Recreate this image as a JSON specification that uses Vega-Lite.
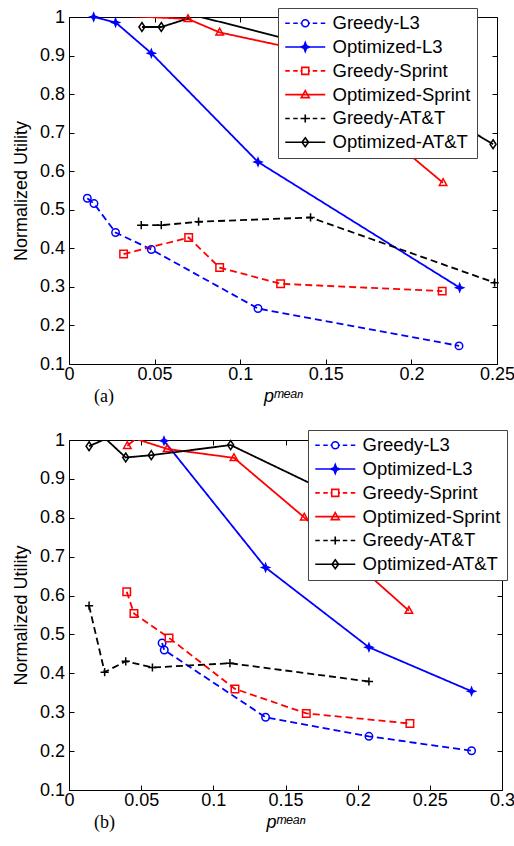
{
  "$schema": "https://vega.github.io/schema/vega-lite/v6.json",
  "padding": {"left": 12, "top": 7, "right": 0, "bottom": 0},
  "background": "white",
  "config": {
    "view": {"stroke": null},
    "font": "Liberation Sans",
    "axis": {"domainColor": "#000", "domainWidth": 1, "tickColor": "#000", "tickSize": -5, "labelColor": "#000", "labelFont": "Liberation Sans", "labelFontSize": 18, "titleFont": "Liberation Sans", "titleFontSize": 18, "titleFontWeight": "normal", "titleColor": "#000", "grid": false, "labelFlush": false, "labelOverlap": false},
    "axisX": {"labelPadding": 6},
    "axisY": {"labelPadding": 9.5},
    "legend": {"labelFont": "Liberation Sans", "labelFontSize": 18.5, "labelColor": "#000", "strokeColor": "#444", "fillColor": "white", "padding": 6, "symbolSize": 100, "symbolStrokeWidth": 1.6, "symbolOffset": 12, "labelOffset": 18, "rowPadding": 4.8, "title": null}
  },
  "datasets": {
    "a": [
      {"series": "Greedy-L3", "x": 0.0107, "y": 0.530},
      {"series": "Greedy-L3", "x": 0.0146, "y": 0.516},
      {"series": "Greedy-L3", "x": 0.0272, "y": 0.441},
      {"series": "Greedy-L3", "x": 0.0481, "y": 0.397},
      {"series": "Greedy-L3", "x": 0.1104, "y": 0.244},
      {"series": "Greedy-L3", "x": 0.2278, "y": 0.147},
      {"series": "Optimized-L3", "x": 0.0144, "y": 1.0},
      {"series": "Optimized-L3", "x": 0.0272, "y": 0.986},
      {"series": "Optimized-L3", "x": 0.0481, "y": 0.906},
      {"series": "Optimized-L3", "x": 0.1104, "y": 0.624},
      {"series": "Optimized-L3", "x": 0.2282, "y": 0.298},
      {"series": "Greedy-Sprint", "x": 0.0319, "y": 0.385},
      {"series": "Greedy-Sprint", "x": 0.0699, "y": 0.428},
      {"series": "Greedy-Sprint", "x": 0.088, "y": 0.350},
      {"series": "Greedy-Sprint", "x": 0.1236, "y": 0.308},
      {"series": "Greedy-Sprint", "x": 0.218, "y": 0.289},
      {"series": "Optimized-Sprint", "x": 0.0315, "y": 1.003},
      {"series": "Optimized-Sprint", "x": 0.0695, "y": 0.995},
      {"series": "Optimized-Sprint", "x": 0.088, "y": 0.96},
      {"series": "Optimized-Sprint", "x": 0.13, "y": 0.92},
      {"series": "Optimized-Sprint", "x": 0.17, "y": 0.75},
      {"series": "Optimized-Sprint", "x": 0.2185, "y": 0.57},
      {"series": "Greedy-AT&T", "x": 0.0422, "y": 0.460},
      {"series": "Greedy-AT&T", "x": 0.0539, "y": 0.460},
      {"series": "Greedy-AT&T", "x": 0.0757, "y": 0.469},
      {"series": "Greedy-AT&T", "x": 0.1411, "y": 0.480},
      {"series": "Greedy-AT&T", "x": 0.2486, "y": 0.311},
      {"series": "Optimized-AT&T", "x": 0.0426, "y": 0.974},
      {"series": "Optimized-AT&T", "x": 0.0539, "y": 0.974},
      {"series": "Optimized-AT&T", "x": 0.0744, "y": 1.003},
      {"series": "Optimized-AT&T", "x": 0.158, "y": 0.908},
      {"series": "Optimized-AT&T", "x": 0.2477, "y": 0.670}
    ],
    "b": [
      {"series": "Greedy-L3", "x": 0.0645, "y": 0.478},
      {"series": "Greedy-L3", "x": 0.0660, "y": 0.460},
      {"series": "Greedy-L3", "x": 0.1362, "y": 0.287},
      {"series": "Greedy-L3", "x": 0.2078, "y": 0.238},
      {"series": "Greedy-L3", "x": 0.2789, "y": 0.201},
      {"series": "Optimized-L3", "x": 0.0658, "y": 0.998},
      {"series": "Optimized-L3", "x": 0.1362, "y": 0.672},
      {"series": "Optimized-L3", "x": 0.2078, "y": 0.467},
      {"series": "Optimized-L3", "x": 0.2789, "y": 0.354},
      {"series": "Greedy-Sprint", "x": 0.040, "y": 0.610},
      {"series": "Greedy-Sprint", "x": 0.045, "y": 0.554},
      {"series": "Greedy-Sprint", "x": 0.0693, "y": 0.491},
      {"series": "Greedy-Sprint", "x": 0.115, "y": 0.360},
      {"series": "Greedy-Sprint", "x": 0.1644, "y": 0.297},
      {"series": "Greedy-Sprint", "x": 0.2362, "y": 0.271},
      {"series": "Optimized-Sprint", "x": 0.0404, "y": 0.985},
      {"series": "Optimized-Sprint", "x": 0.0462, "y": 1.003},
      {"series": "Optimized-Sprint", "x": 0.068, "y": 0.977},
      {"series": "Optimized-Sprint", "x": 0.1143, "y": 0.954},
      {"series": "Optimized-Sprint", "x": 0.163, "y": 0.801},
      {"series": "Optimized-Sprint", "x": 0.2355, "y": 0.561},
      {"series": "Greedy-AT&T", "x": 0.0139, "y": 0.574},
      {"series": "Greedy-AT&T", "x": 0.0247, "y": 0.403},
      {"series": "Greedy-AT&T", "x": 0.0393, "y": 0.431},
      {"series": "Greedy-AT&T", "x": 0.0578, "y": 0.415},
      {"series": "Greedy-AT&T", "x": 0.1115, "y": 0.426},
      {"series": "Greedy-AT&T", "x": 0.2078, "y": 0.379},
      {"series": "Optimized-AT&T", "x": 0.0139, "y": 0.984},
      {"series": "Optimized-AT&T", "x": 0.0254, "y": 1.003},
      {"series": "Optimized-AT&T", "x": 0.0393, "y": 0.955},
      {"series": "Optimized-AT&T", "x": 0.057, "y": 0.961},
      {"series": "Optimized-AT&T", "x": 0.112, "y": 0.987},
      {"series": "Optimized-AT&T", "x": 0.2, "y": 0.83}
    ]
  },
  "resolve": {"scale": {"x": "independent", "y": "independent", "stroke": "independent", "strokeDash": "independent", "shape": "independent", "fill": "independent"}, "legend": {"stroke": "independent"}},
  "spacing": 23,
  "vconcat": [
    {
      "width": 428, "height": 347,
      "data": {"name": "a"},
      "title": {"text": "(a)", "orient": "bottom", "anchor": "start", "frame": "group", "dx": 25, "offset": -17, "font": "Liberation Serif", "fontSize": 18, "fontWeight": "normal", "color": "#000"},
      "resolve": {"axis": {"x": "independent", "y": "independent"}},
      "layer": [
        {
          "mark": {"type": "line", "strokeWidth": 1.8, "clip": true},
          "encoding": {
            "x": {"field": "x", "type": "quantitative", "scale": {"domain": [0, 0.25], "nice": false, "zero": false}, "axis": {"values": [0, 0.05, 0.1, 0.15, 0.2, 0.25], "format": "~g", "title": "pᵐᵉᵃⁿ", "titleFontStyle": "italic", "titlePadding": 4}},
            "y": {"field": "y", "type": "quantitative", "scale": {"domain": [0.1, 1], "nice": false, "zero": false}, "axis": {"values": [0.1, 0.2, 0.3, 0.4, 0.5, 0.6, 0.7, 0.8, 0.9, 1], "format": "~g", "title": "Normalized Utility", "titlePadding": 9}},
            "stroke": {"field": "series", "type": "nominal", "sort": null,
              "scale": {"domain": ["Greedy-L3", "Optimized-L3", "Greedy-Sprint", "Optimized-Sprint", "Greedy-AT&T", "Optimized-AT&T"], "range": ["#0000ff", "#0000ff", "#ff0000", "#ff0000", "#000000", "#000000"]},
              "legend": {"orient": "none", "legendX": 209, "legendY": -9,
                "symbolType": {"expr": "datum.value==='Greedy-L3' ? 'M-4,0H-3.1M-2.4,0H-1.5M-0.95,0H-0.7M0.7,0H0.95M1.5,0H2.4M3.1,0H4M0.7,0A0.7,0.7 0 1,1 -0.7,0A0.7,0.7 0 1,1 0.7,0' : datum.value==='Optimized-L3' ? 'M-4,0H4M0,-0.9L0.25,-0.25L0.9,0L0.25,0.25L0,0.9L-0.25,0.25L-0.9,0L-0.25,-0.25Z' : datum.value==='Greedy-Sprint' ? 'M-4,0H-3.1M-2.4,0H-1.5M-0.95,0H-0.7M0.7,0H0.95M1.5,0H2.4M3.1,0H4M-0.7,-0.7H0.7V0.7H-0.7Z' : datum.value==='Optimized-Sprint' ? 'M-4,0H4M0,-0.8L0.8,0.6H-0.8Z' : datum.value==='Greedy-AT&T' ? 'M-4,0H-3.1M-2.4,0H-1.5M-0.95,0H0.95M1.5,0H2.4M3.1,0H4M0,-0.8V0.8' : 'M-4,0H4M0,-0.9L0.65,0L0,0.9L-0.65,0Z'"},
                "symbolFillColor": {"expr": "datum.value==='Optimized-L3' ? '#0000ff' : 'transparent'"}
              }},
            "strokeDash": {"field": "series", "type": "nominal", "sort": null,
              "scale": {"range": [[7, 4], [1, 0], [7, 4], [1, 0], [7, 4], [1, 0]]}, "legend": null}
          }
        },
        {
          "transform": [{"filter": "datum.y <= 1"}],
          "mark": {"type": "point", "size": 56, "strokeWidth": 1.5, "opacity": 1},
          "encoding": {
            "x": {"field": "x", "type": "quantitative", "axis": {"orient": "top", "values": [0, 0.05, 0.1, 0.15, 0.2, 0.25], "labels": false, "title": null}},
            "y": {"field": "y", "type": "quantitative", "axis": {"orient": "right", "values": [0.1, 0.2, 0.3, 0.4, 0.5, 0.6, 0.7, 0.8, 0.9, 1], "labels": false, "title": null}},
            "stroke": {"field": "series", "type": "nominal", "sort": null, "legend": null},
            "fill": {"field": "series", "type": "nominal", "sort": null, "legend": null,
              "scale": {"range": ["transparent", "#0000ff", "transparent", "transparent", "transparent", "transparent"]}},
            "shape": {"field": "series", "type": "nominal", "sort": null, "legend": null,
              "scale": {"range": ["M1,0A1,1 0 1,1 -1,0A1,1 0 1,1 1,0Z", "M0,-1L0.28,-0.28L1,0L0.28,0.28L0,1L-0.28,0.28L-1,0L-0.28,-0.28Z", "M-1,-1H1V1H-1Z", "M0,-1.1L1,0.7H-1Z", "M-1.1,0H1.1M0,-1.1V1.1", "M0,-1.2L0.8,0L0,1.2L-0.8,0Z"]}}
          }
        }
      ]
    },
    {
      "width": 433, "height": 350,
      "data": {"name": "b"},
      "title": {"text": "(b)", "orient": "bottom", "anchor": "start", "frame": "group", "dx": 25, "offset": -17, "font": "Liberation Serif", "fontSize": 18, "fontWeight": "normal", "color": "#000"},
      "resolve": {"axis": {"x": "independent", "y": "independent"}},
      "layer": [
        {
          "mark": {"type": "line", "strokeWidth": 1.8, "clip": true},
          "encoding": {
            "x": {"field": "x", "type": "quantitative", "scale": {"domain": [0, 0.3], "nice": false, "zero": false}, "axis": {"values": [0, 0.05, 0.1, 0.15, 0.2, 0.25, 0.3], "format": "~g", "title": "pᵐᵉᵃⁿ", "titleFontStyle": "italic", "titlePadding": 4}},
            "y": {"field": "y", "type": "quantitative", "scale": {"domain": [0.1, 1], "nice": false, "zero": false}, "axis": {"values": [0.1, 0.2, 0.3, 0.4, 0.5, 0.6, 0.7, 0.8, 0.9, 1], "format": "~g", "title": "Normalized Utility", "titlePadding": 9}},
            "stroke": {"field": "series", "type": "nominal", "sort": null,
              "scale": {"domain": ["Greedy-L3", "Optimized-L3", "Greedy-Sprint", "Optimized-Sprint", "Greedy-AT&T", "Optimized-AT&T"], "range": ["#0000ff", "#0000ff", "#ff0000", "#ff0000", "#000000", "#000000"]},
              "legend": {"orient": "none", "legendX": 239, "legendY": -10,
                "symbolType": {"expr": "datum.value==='Greedy-L3' ? 'M-4,0H-3.1M-2.4,0H-1.5M-0.95,0H-0.7M0.7,0H0.95M1.5,0H2.4M3.1,0H4M0.7,0A0.7,0.7 0 1,1 -0.7,0A0.7,0.7 0 1,1 0.7,0' : datum.value==='Optimized-L3' ? 'M-4,0H4M0,-0.9L0.25,-0.25L0.9,0L0.25,0.25L0,0.9L-0.25,0.25L-0.9,0L-0.25,-0.25Z' : datum.value==='Greedy-Sprint' ? 'M-4,0H-3.1M-2.4,0H-1.5M-0.95,0H-0.7M0.7,0H0.95M1.5,0H2.4M3.1,0H4M-0.7,-0.7H0.7V0.7H-0.7Z' : datum.value==='Optimized-Sprint' ? 'M-4,0H4M0,-0.8L0.8,0.6H-0.8Z' : datum.value==='Greedy-AT&T' ? 'M-4,0H-3.1M-2.4,0H-1.5M-0.95,0H0.95M1.5,0H2.4M3.1,0H4M0,-0.8V0.8' : 'M-4,0H4M0,-0.9L0.65,0L0,0.9L-0.65,0Z'"},
                "symbolFillColor": {"expr": "datum.value==='Optimized-L3' ? '#0000ff' : 'transparent'"}
              }},
            "strokeDash": {"field": "series", "type": "nominal", "sort": null,
              "scale": {"range": [[7, 4], [1, 0], [7, 4], [1, 0], [7, 4], [1, 0]]}, "legend": null}
          }
        },
        {
          "transform": [{"filter": "datum.y <= 1"}],
          "mark": {"type": "point", "size": 56, "strokeWidth": 1.5, "opacity": 1},
          "encoding": {
            "x": {"field": "x", "type": "quantitative", "axis": {"orient": "top", "values": [0, 0.05, 0.1, 0.15, 0.2, 0.25, 0.3], "labels": false, "title": null}},
            "y": {"field": "y", "type": "quantitative", "axis": {"orient": "right", "values": [0.1, 0.2, 0.3, 0.4, 0.5, 0.6, 0.7, 0.8, 0.9, 1], "labels": false, "title": null}},
            "stroke": {"field": "series", "type": "nominal", "sort": null, "legend": null},
            "fill": {"field": "series", "type": "nominal", "sort": null, "legend": null,
              "scale": {"range": ["transparent", "#0000ff", "transparent", "transparent", "transparent", "transparent"]}},
            "shape": {"field": "series", "type": "nominal", "sort": null, "legend": null,
              "scale": {"range": ["M1,0A1,1 0 1,1 -1,0A1,1 0 1,1 1,0Z", "M0,-1L0.28,-0.28L1,0L0.28,0.28L0,1L-0.28,0.28L-1,0L-0.28,-0.28Z", "M-1,-1H1V1H-1Z", "M0,-1.1L1,0.7H-1Z", "M-1.1,0H1.1M0,-1.1V1.1", "M0,-1.2L0.8,0L0,1.2L-0.8,0Z"]}}
          }
        }
      ]
    }
  ]
}
